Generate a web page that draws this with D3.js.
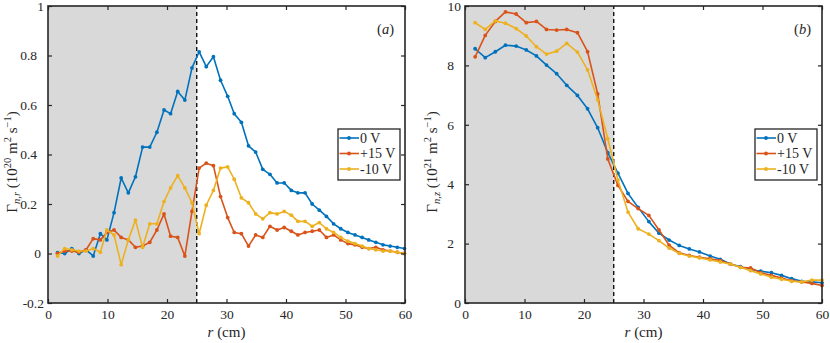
<!DOCTYPE html>
<html lang="en">
<head>
<meta charset="UTF-8">
<title>Particle flux profiles</title>
<script src="https://cdn.jsdelivr.net/npm/d3@7"></script>
<style>
  body { margin: 0; background: #fff; }
  text { font-family: "Liberation Serif", "Times New Roman", serif; fill: #262626; }
</style>
</head>
<body>
<svg id="chart" width="830" height="343"></svg>
<script>
// ---- data ----
const seriesNames = ["0 V", "+15 V", "-10 V"];
const colors = ["#0072BD", "#D95319", "#EDB120"];

// panel (a): radial flux, 10^20 m^-2 s^-1
const rA = [1.6, 2.8, 4.0, 5.2, 6.4, 7.6, 8.8, 9.9, 11.1, 12.3, 13.5, 14.7, 15.9, 17.1, 18.3,
  19.5, 20.6, 21.8, 23.0, 24.2, 25.4, 26.6, 27.8, 29.0, 30.2, 31.3, 32.5, 33.7, 34.9, 36.1,
  37.3, 38.5, 39.7, 40.9, 42.0, 43.2, 44.4, 45.6, 46.8, 48.0, 49.2, 50.4, 51.6, 52.8, 53.9,
  55.1, 56.3, 57.5, 58.7, 59.9];
const fluxA0 = [0.003, 0.0, 0.02, 0.0, 0.015, -0.01, 0.08, 0.055, 0.165, 0.305, 0.245, 0.31,
  0.43, 0.43, 0.49, 0.58, 0.565, 0.655, 0.62, 0.75, 0.815, 0.755, 0.795, 0.70, 0.635, 0.565,
  0.53, 0.435, 0.41, 0.34, 0.32, 0.285, 0.285, 0.255, 0.245, 0.245, 0.20, 0.175, 0.15, 0.12,
  0.10, 0.085, 0.075, 0.065, 0.055, 0.045, 0.035, 0.03, 0.025, 0.02];
const fluxA15 = [0.0, 0.01, 0.01, 0.005, 0.015, 0.06, 0.055, 0.085, 0.095, 0.065, 0.055, 0.025,
  0.03, 0.045, 0.095, 0.16, 0.07, 0.065, -0.01, 0.17, 0.345, 0.365, 0.355, 0.23, 0.145, 0.085,
  0.08, 0.03, 0.075, 0.065, 0.11, 0.095, 0.105, 0.09, 0.075, 0.085, 0.09, 0.095, 0.065, 0.075,
  0.055, 0.04, 0.035, 0.025, 0.02, 0.025, 0.015, 0.01, 0.005, 0.0];
const fluxAm10 = [-0.01, 0.02, 0.015, 0.01, 0.01, 0.02, 0.005, 0.095, 0.075, -0.045, 0.055,
  0.135, 0.025, 0.12, 0.12, 0.21, 0.265, 0.315, 0.265, 0.205, 0.08, 0.195, 0.255, 0.345, 0.35,
  0.30, 0.225, 0.205, 0.16, 0.14, 0.165, 0.16, 0.17, 0.155, 0.13, 0.13, 0.11, 0.125, 0.10,
  0.085, 0.065, 0.05, 0.04, 0.03, 0.02, 0.015, 0.01, 0.01, 0.005, 0.0];

// panel (b): axial flux, 10^21 m^-2 s^-1
const rB = [1.7, 3.4, 5.1, 6.8, 8.6, 10.3, 12.0, 13.7, 15.4, 17.1, 18.9, 20.6, 22.3, 24.0,
  25.7, 27.4, 29.1, 30.9, 32.6, 34.3, 36.0, 37.7, 39.4, 41.2, 42.9, 44.6, 46.3, 48.0, 49.7,
  51.5, 53.2, 54.9, 56.6, 58.3, 60.0];
const fluxB0 = [8.56, 8.26, 8.46, 8.68, 8.65, 8.52, 8.32, 8.01, 7.72, 7.33, 6.99, 6.54, 5.90,
  5.06, 4.37, 3.69, 3.22, 2.74, 2.35, 2.12, 1.94, 1.82, 1.72, 1.58, 1.47, 1.31, 1.22, 1.13,
  1.07, 1.02, 0.93, 0.82, 0.73, 0.71, 0.68];
const fluxB15 = [8.29, 9.01, 9.48, 9.80, 9.73, 9.44, 9.48, 9.21, 9.19, 9.21, 9.10, 8.46, 7.04,
  4.85, 3.96, 3.42, 3.18, 2.95, 2.46, 1.95, 1.69, 1.60, 1.54, 1.49, 1.43, 1.31, 1.20, 1.18,
  1.02, 0.93, 0.84, 0.75, 0.71, 0.66, 0.59];
const fluxBm10 = [9.44, 9.21, 9.50, 9.42, 9.24, 8.99, 8.63, 8.38, 8.48, 8.74, 8.45, 7.85, 6.84,
  5.53, 4.14, 3.06, 2.50, 2.32, 2.10, 1.85, 1.67, 1.58, 1.52, 1.45, 1.38, 1.31, 1.20, 1.09,
  0.98, 0.87, 0.80, 0.73, 0.71, 0.77, 0.77];

const xTicks = [0, 10, 20, 30, 40, 50, 60];
const yTicksA = [-0.2, 0, 0.2, 0.4, 0.6, 0.8, 1];
const yTicksB = [0, 2, 4, 6, 8, 10];
const edgeR = 25;   // shaded core region / dashed boundary

const svg = d3.select("#chart");
const axisColor = "#262626";

function panel(opt) {
  const x = d3.scaleLinear().domain([0, 60]).range([opt.x0, opt.x1]);
  const y = d3.scaleLinear().domain(opt.yDomain).range([opt.y1, opt.y0]);
  const g = svg.append("g");

  // shaded region
  g.append("rect")
    .attr("x", x(0)).attr("y", y.range()[1])
    .attr("width", x(edgeR) - x(0)).attr("height", y.range()[0] - y.range()[1])
    .attr("fill", "#d9d9d9");

  // dashed boundary
  g.append("line")
    .attr("x1", x(edgeR)).attr("x2", x(edgeR))
    .attr("y1", y.range()[0]).attr("y2", y.range()[1])
    .attr("stroke", "#000").attr("stroke-width", 1.3)
    .attr("stroke-dasharray", "4,3");

  // series
  const line = d3.line().x((d, i) => x(opt.r[i])).y(d => y(d));
  opt.series.forEach((vals, k) => {
    g.append("path").datum(vals)
      .attr("d", line)
      .attr("fill", "none")
      .attr("stroke", colors[k])
      .attr("stroke-width", 1.6)
      .attr("stroke-linejoin", "round");
    g.selectAll(".m" + k).data(vals).join("circle")
      .attr("cx", (d, i) => x(opt.r[i]))
      .attr("cy", d => y(d))
      .attr("r", 1.9)
      .attr("fill", colors[k]);
  });

  // axes: bottom/left with labels, top/right mirrored ticks
  const tl = 4;
  const bottom = g.append("g").attr("transform", `translate(0,${opt.y1})`)
    .call(d3.axisBottom(x).tickValues(xTicks).tickSizeInner(-tl).tickSizeOuter(0).tickPadding(6));
  const top = g.append("g").attr("transform", `translate(0,${opt.y0})`)
    .call(d3.axisTop(x).tickValues(xTicks).tickSizeInner(-tl).tickSizeOuter(0).tickFormat(""));
  const left = g.append("g").attr("transform", `translate(${opt.x0},0)`)
    .call(d3.axisLeft(y).tickValues(opt.yTicks).tickSizeInner(-tl).tickSizeOuter(0)
      .tickPadding(4).tickFormat(d3.format("~g")));
  const right = g.append("g").attr("transform", `translate(${opt.x1},0)`)
    .call(d3.axisRight(y).tickValues(opt.yTicks).tickSizeInner(-tl).tickSizeOuter(0).tickFormat(""));
  [bottom, top, left, right].forEach(a => {
    a.select(".domain").remove();
    a.selectAll("line").attr("stroke", axisColor).attr("stroke-width", 1.2);
    a.selectAll("text").attr("font-size", 13.5).attr("fill", axisColor);
  });
  // the figure's y labels sit unevenly; nudge them as in the original
  left.selectAll("text")
    .attr("dx", d => opt.labelShift(d))
    .text(d => d < 0 ? "-" + Math.abs(d) : d3.format("~g")(d));
  g.append("rect")
    .attr("x", opt.x0).attr("y", opt.y0)
    .attr("width", opt.x1 - opt.x0).attr("height", opt.y1 - opt.y0)
    .attr("fill", "none").attr("stroke", axisColor).attr("stroke-width", 1.6);

  // x label
  const xl = g.append("text")
    .attr("x", (opt.x0 + opt.x1) / 2).attr("y", 337)
    .attr("text-anchor", "middle").attr("font-size", 15);
  xl.append("tspan").attr("font-style", "italic").text("r");
  xl.append("tspan").text(" (cm)");

  // y label
  const yl = g.append("text")
    .attr("transform", `translate(${opt.ylabX},162) rotate(-90)`)
    .attr("text-anchor", "middle").attr("font-size", 15);
  yl.append("tspan").text("Γ");
  yl.append("tspan").attr("font-style", "italic").attr("font-size", 10.5)
    .attr("dy", 3).text("n,");
  yl.append("tspan").attr("font-style", "italic").attr("font-size", 10.5).text(opt.sub);
  yl.append("tspan").attr("dy", -3).text(" (10");
  yl.append("tspan").attr("font-size", 10.5).attr("dy", -6).text(opt.exp);
  yl.append("tspan").attr("dy", 6).text(" m");
  yl.append("tspan").attr("font-size", 10.5).attr("dy", -6).text("2");
  yl.append("tspan").attr("dy", 6).text(" s");
  yl.append("tspan").attr("font-size", 10.5).attr("dy", -6).text("−1");
  yl.append("tspan").attr("dy", 6).text(")");

  // panel tag
  const tag = g.append("text")
    .attr("x", opt.x1 - 11).attr("y", 34)
    .attr("text-anchor", "end").attr("font-size", 14.5);
  tag.append("tspan").text("(");
  tag.append("tspan").attr("font-style", "italic").text(opt.tag);
  tag.append("tspan").text(")");

  // legend
  const lg = g.append("g").attr("transform", `translate(${opt.legX},129)`);
  lg.append("rect").attr("width", 62).attr("height", 51)
    .attr("fill", "#fff").attr("stroke", axisColor).attr("stroke-width", 1.3);
  seriesNames.forEach((name, k) => {
    const yy = 9 + k * 15.5;
    lg.append("line").attr("x1", 1.5).attr("x2", 21).attr("y1", yy).attr("y2", yy)
      .attr("stroke", colors[k]).attr("stroke-width", 1.6);
    lg.append("circle").attr("cx", 11).attr("cy", yy).attr("r", 1.9).attr("fill", colors[k]);
    lg.append("text").attr("x", 22).attr("y", yy + 4.5)
      .attr("font-size", 14).text(name);
  });
}

panel({
  x0: 48, x1: 405, y0: 6, y1: 303,
  yDomain: [-0.2, 1], yTicks: yTicksA,
  r: rA, series: [fluxA0, fluxA15, fluxAm10],
  labelShift: d => (d === 1 || d < 0) ? 0 : d === 0 ? -3 : -7,
  ylabX: 17, sub: "r", exp: "20", tag: "a", legX: 338
});
panel({
  x0: 465, x1: 822, y0: 6, y1: 303,
  yDomain: [0, 10], yTicks: yTicksB,
  r: rB, series: [fluxB0, fluxB15, fluxBm10],
  labelShift: d => (d === 0 || d === 10) ? 0 : -7,
  ylabX: 437, sub: "z", exp: "21", tag: "b", legX: 755
});
</script>
</body>
</html>
